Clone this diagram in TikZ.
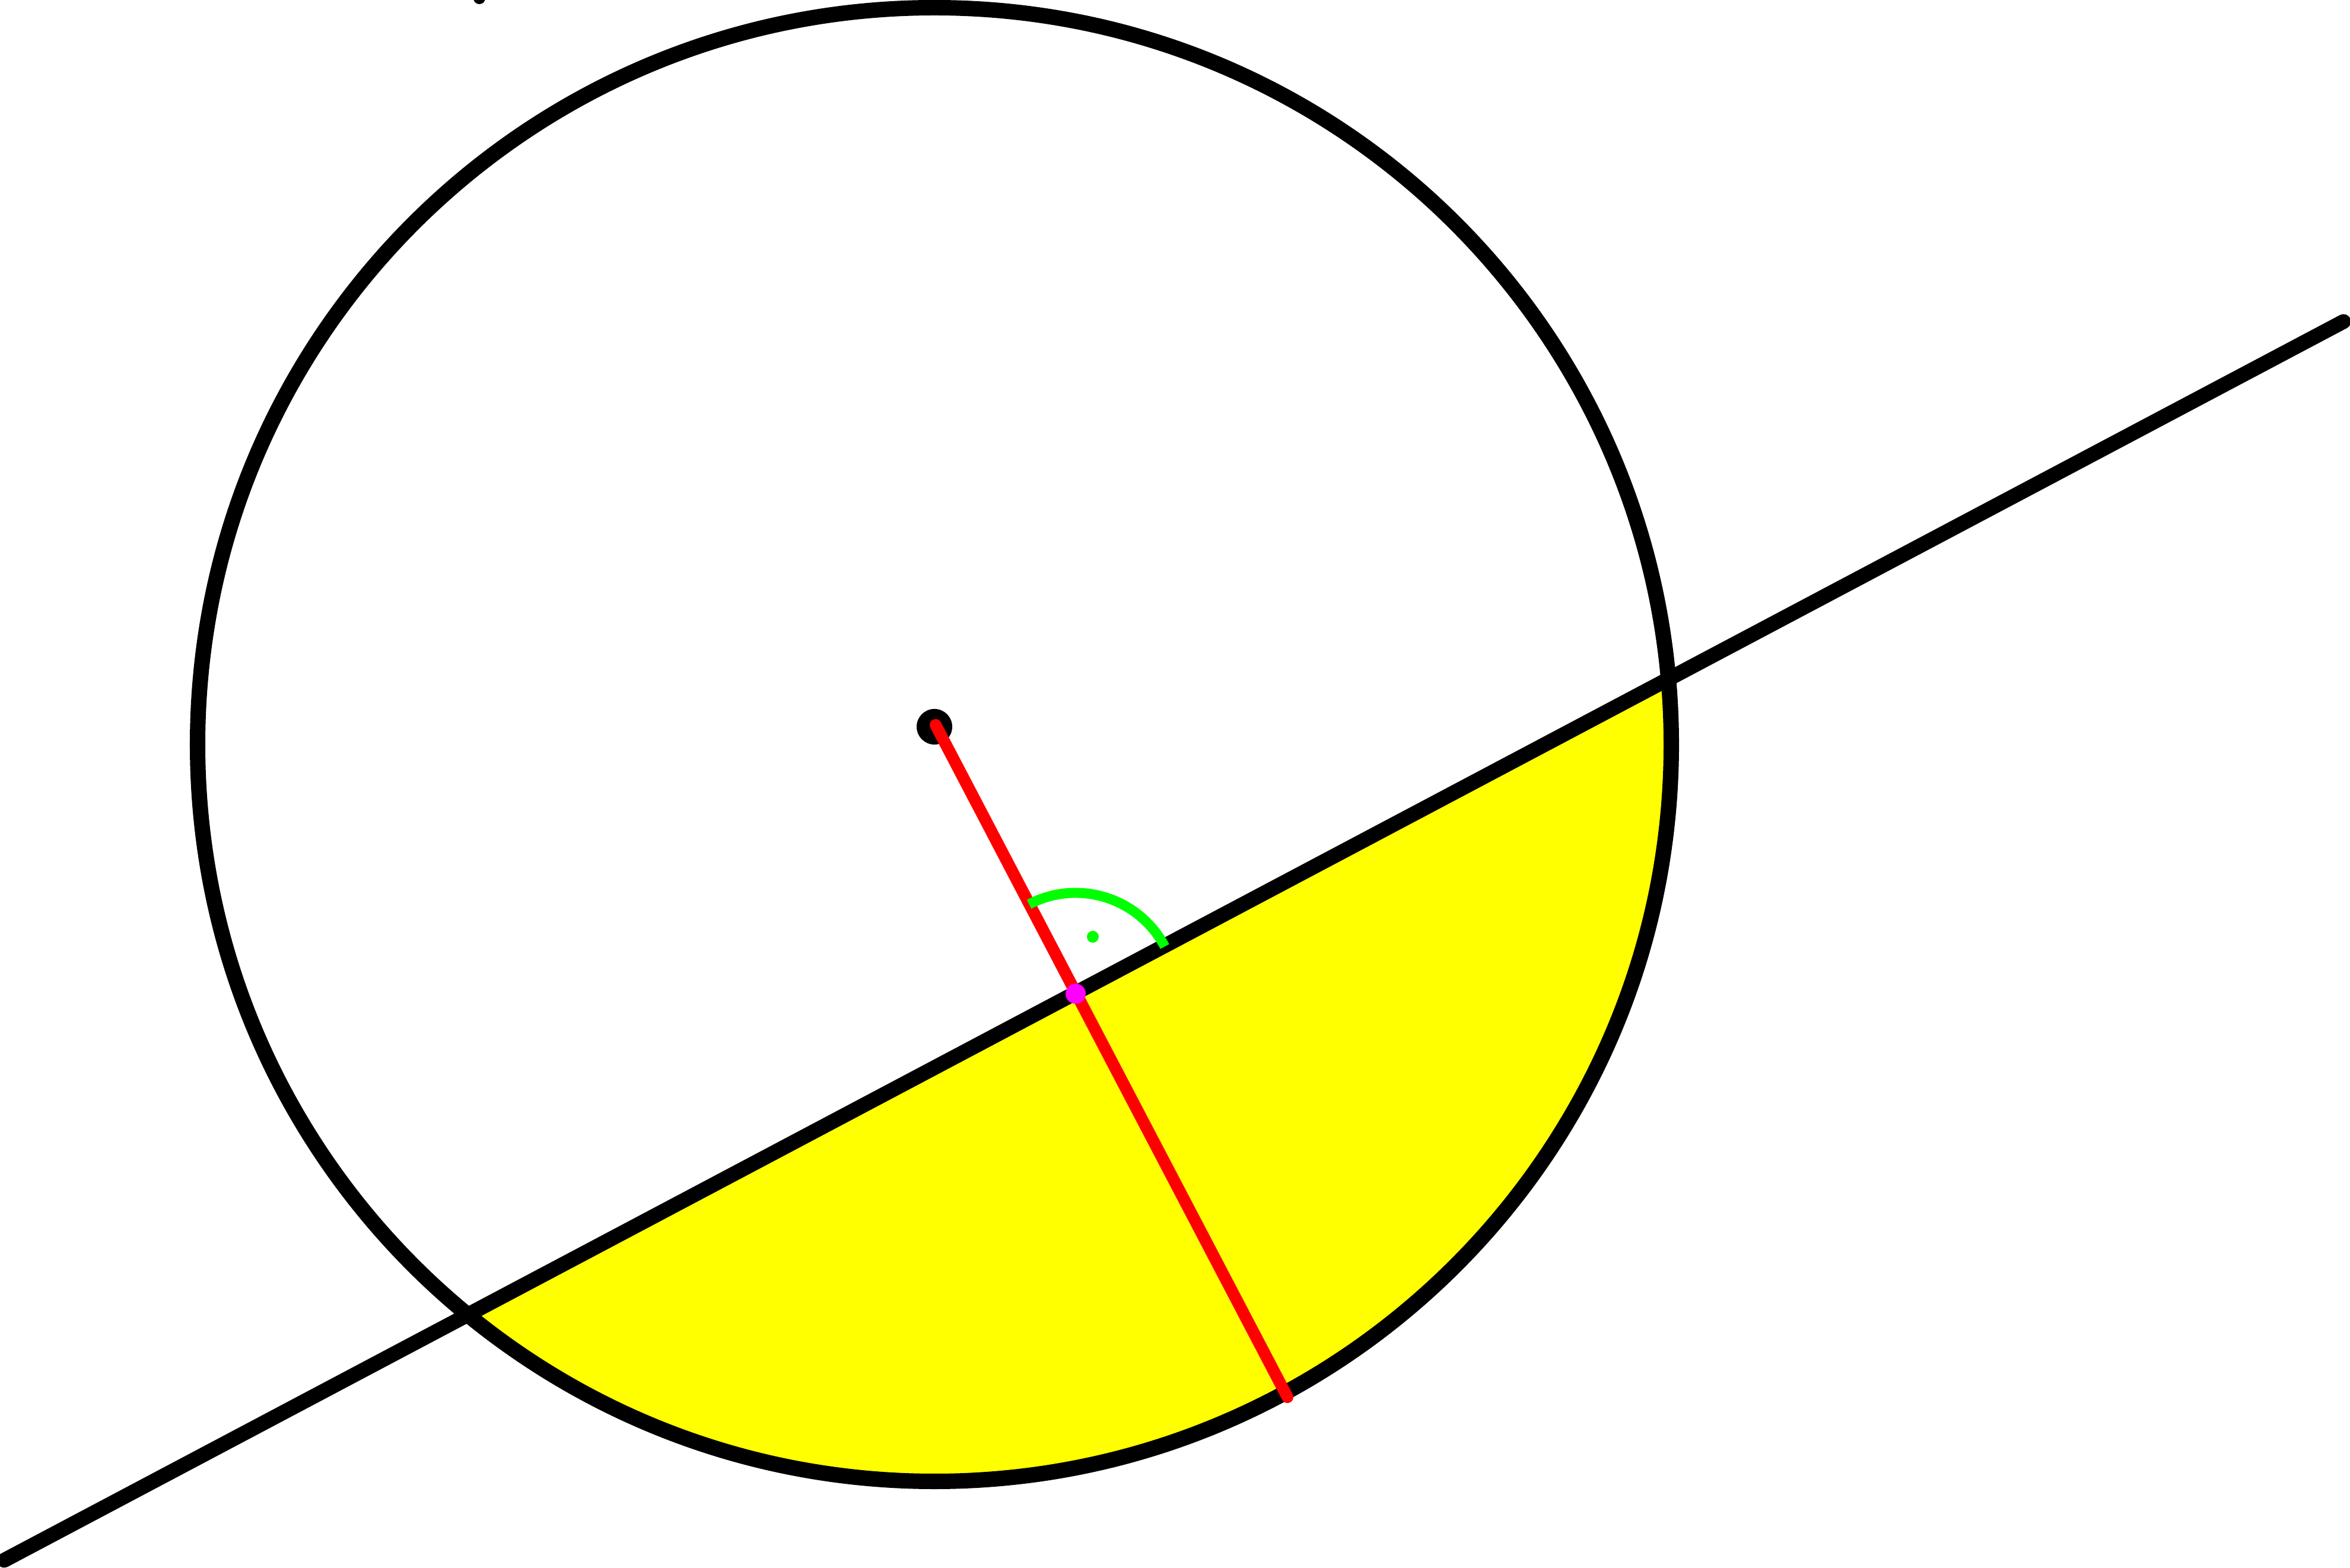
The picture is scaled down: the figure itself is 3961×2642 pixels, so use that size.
\documentclass[tikz,border=0pt]{standalone}
\usetikzlibrary{calc}
\definecolor{myyellow}{RGB}{255,255,0}
\definecolor{myred}{RGB}{255,0,0}
\definecolor{mygreen}{RGB}{0,255,0}
\definecolor{mymagenta}{RGB}{255,0,255}
\tikzset{
  blackline/.style={draw=black, line width=7.1pt, line cap=round},
  circline/.style={draw=black, line width=7.4pt},
  redline/.style={draw=myred, line width=5.7pt, line cap=round},
  greenarc/.style={draw=mygreen, line width=4.8pt},
}
\begin{document}
\begin{tikzpicture}[x=0.01cm, y=0.01cm]
\useasboundingbox (0,0) rectangle (3961,2642);
\coordinate (P1) at (7,12);
\coordinate (P2) at (3950,2100);
\coordinate (C) at (1575,1387);
\coordinate (O) at (1577,1420);
\coordinate (Od) at (1575,1417);
\coordinate (F) at (1813,967);
\coordinate (E) at (2170,287);
\coordinate (G) at (1842,1063);
\coordinate (T) at (808,2645);
% yellow segment below the line
\begin{scope}
  \clip (-100,-45) -- (4100,2179) -- (4100,-400) -- (-100,-400) -- cycle;
  \fill[myyellow] (C) circle (1242);
\end{scope}
% circle
\draw[circline] (C) circle (1242);
% line
\draw[blackline] (P1) -- (P2);
% center dot
\fill[black] (Od) circle (30);
% red perpendicular
\draw[redline] (O) -- (E);
% right angle mark
\draw[greenarc] ($(F)+(27.9:170)$) arc[start angle=27.9, end angle=117.5, radius=170];
\fill[mygreen] (G) circle (10);
% foot
\fill[mymagenta] (F) circle (17);
% top dot
\fill[black] (T) circle (10);
\end{tikzpicture}
\end{document}
